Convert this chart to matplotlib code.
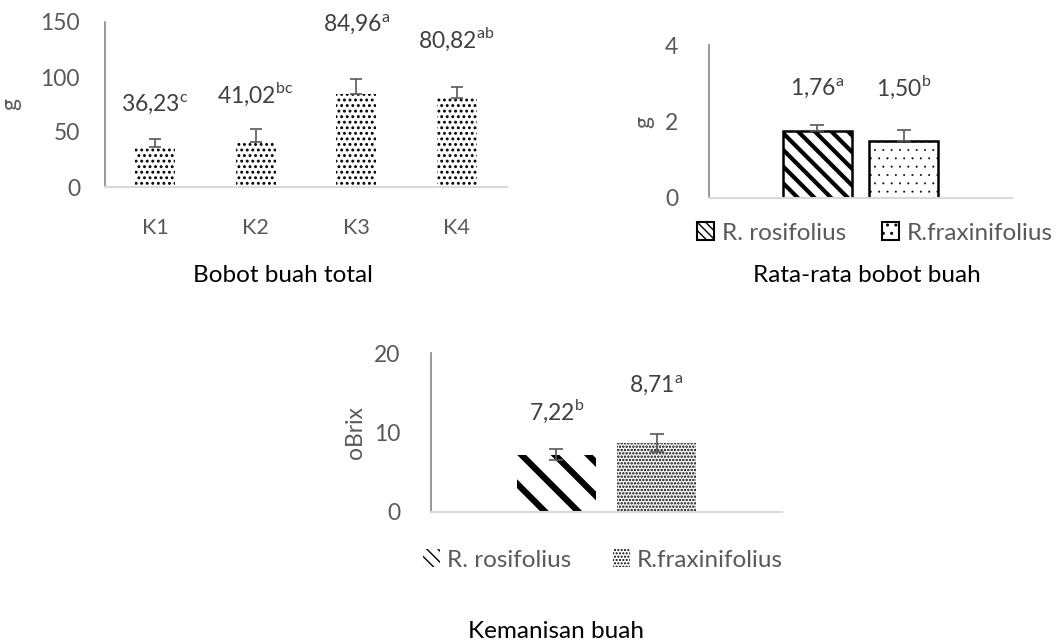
import numpy as np
import matplotlib
matplotlib.use('Agg')
import matplotlib.pyplot as plt
from matplotlib.patches import Patch

plt.rcParams['font.family'] = ['Lato', 'DejaVu Sans']
plt.rcParams['mathtext.fontset'] = 'custom'
plt.rcParams['mathtext.rm'] = 'Lato'
plt.rcParams['hatch.linewidth'] = 1.0

# data
perlakuan = ['K1', 'K2', 'K3', 'K4']
bobot_total = [36.23, 41.02, 84.96, 80.82]
bobot_total_err = [7.4, 11.4, 13.2, 9.8]
notasi_total = ['c', 'bc', 'a', 'ab']

spesies = ['R. rosifolius', 'R.fraxinifolius']
bobot_rata = [1.76, 1.50]
bobot_rata_err = [0.15, 0.28]
notasi_rata = ['a', 'b']

brix = [7.22, 8.71]
brix_err = [0.7, 1.1]
notasi_brix = ['b', 'a']

W, H = 1061, 642
fig = plt.figure(figsize=(W / 100, H / 100), dpi=100)

TICK_C = '#595959'
LAB_C = '#404040'
ERR_C = '#595959'
FS_TICK = 16.5
FS_CAT = 15.5
FS_VAL = 16.5
FS_LEG = 17.5
FS_TTL = 17.5


def px_axes(left, right, base, top):
    return fig.add_axes([left / W, (H - base) / H, (right - left) / W, (base - top) / H])


def style(ax):
    for s in ['top', 'right']:
        ax.spines[s].set_visible(False)
    ax.spines['left'].set_color('#868686')
    ax.spines['left'].set_linewidth(1.2)
    ax.spines['bottom'].set_color('#d9d9d9')
    ax.spines['bottom'].set_linewidth(1.5)
    ax.tick_params(length=0, colors=TICK_C, pad=14)
    ax.tick_params(axis='y', labelsize=FS_TICK)
    ax.tick_params(axis='x', labelsize=FS_CAT)


def hatch_style(p, hatch, lw, color='black'):
    p.set_hatch(hatch)
    try:
        p.set_hatch_linewidth(lw)
    except AttributeError:
        pass
    try:
        p.set_hatchcolor(color)
    except AttributeError:
        pass


def fmt(v, sup):
    return ('%.2f' % v).replace('.', ',') + r'$^{\mathrm{%s}}$' % sup


# ---- Bobot buah total
ax1 = px_axes(105, 507, 187, 22)
x1 = np.arange(len(perlakuan))
b1 = ax1.bar(x1, bobot_total, 0.4, color='white', edgecolor='black', linewidth=0)
for p in b1:
    hatch_style(p, '...', 1.3)
ax1.errorbar(x1, bobot_total, yerr=[np.zeros(4), bobot_total_err], fmt='none',
             ecolor=ERR_C, elinewidth=1.2, capsize=4, capthick=1.2)
label_y1 = [75, 84, 148, 134]
for xi, v, s, ly in zip(x1, bobot_total, notasi_total, label_y1):
    ax1.text(xi, ly, fmt(v, s), ha='center', va='center', fontsize=FS_VAL, color=LAB_C)
ax1.set_xlim(-0.5, 3.5)
ax1.set_ylim(0, 150)
ax1.set_yticks([0, 50, 100, 150])
ax1.set_xticks(x1)
ax1.set_xticklabels(perlakuan)
style(ax1)
ax1.tick_params(axis='y', pad=18)
ax1.tick_params(axis='x', pad=22)
ax1.set_ylabel('g', fontsize=FS_TICK, color=TICK_C, labelpad=14)
fig.text(283 / W, 1 - 275 / H, 'Bobot buah total', ha='center', va='center', fontsize=FS_TTL, color='black')

# ---- Rata-rata bobot buah
ax2 = px_axes(709, 1012, 198, 45)
x2 = np.array([-0.142, 0.143])
b2 = ax2.bar(x2, bobot_rata, 0.228, color='white', edgecolor='black', linewidth=1.8)
hatch_style(b2[0], '\\\\', 3.0, '#404040')
hatch_style(b2[1], '..', 0.2)
ax2.errorbar(x2, bobot_rata, yerr=[np.zeros(2), bobot_rata_err], fmt='none',
             ecolor=ERR_C, elinewidth=1.2, capsize=5, capthick=1.2)
for xi, v, s in zip(x2, bobot_rata, notasi_rata):
    ax2.text(xi, 2.88, fmt(v, s), ha='center', va='center', fontsize=FS_VAL, color=LAB_C)
ax2.set_xlim(-0.5, 0.5)
ax2.set_ylim(0, 4)
ax2.set_yticks([0, 2, 4])
ax2.set_xticks([])
style(ax2)
ax2.tick_params(axis='y', pad=22)
ax2.set_ylabel('g', fontsize=FS_TICK, color=TICK_C, labelpad=8)
h2 = [Patch(facecolor='white', edgecolor='black', linewidth=1.5),
      Patch(facecolor='white', edgecolor='black', linewidth=1.5)]
hatch_style(h2[0], '\\\\\\\\', 3.0, '#404040')
hatch_style(h2[1], '..', 0.2)
fig.legend(h2, spesies, loc='center', bbox_to_anchor=(875 / W, 1 - 233 / H), ncol=2,
           frameon=False, fontsize=FS_LEG, labelcolor=TICK_C, handlelength=0.7, handleheight=0.7,
           handletextpad=0.3, columnspacing=1.5, borderpad=0)
fig.text(867 / W, 1 - 275 / H, 'Rata-rata bobot buah', ha='center', va='center', fontsize=FS_TTL, color='black')

# ---- Kemanisan buah
ax3 = px_axes(431, 782, 512, 353)
x3 = np.array([-0.1425, 0.1425])
b3 = ax3.bar(x3, brix, 0.225, color='white', edgecolor='black', linewidth=0)
hatch_style(b3[0], '\\', 4.5)
hatch_style(b3[1], '.....', 1.2)
ax3.errorbar(x3, brix, yerr=brix_err, fmt='none',
             ecolor=ERR_C, elinewidth=1.2, capsize=5, capthick=1.2)
label_y3 = [12.6, 16.0]
for xi, v, s, ly in zip(x3, brix, notasi_brix, label_y3):
    ax3.text(xi, ly, fmt(v, s), ha='center', va='center', fontsize=FS_VAL, color=LAB_C)
ax3.set_xlim(-0.5, 0.5)
ax3.set_ylim(0, 20)
ax3.set_yticks([0, 10, 20])
ax3.set_xticks([])
style(ax3)
ax3.tick_params(axis='y', pad=22)
ax3.set_ylabel('oBrix', fontsize=FS_TICK, color=TICK_C, labelpad=6)
h3 = [Patch(facecolor='white', edgecolor='black', linewidth=0),
      Patch(facecolor='white', edgecolor='black', linewidth=0)]
hatch_style(h3[0], '\\\\\\', 4.0)
hatch_style(h3[1], '.....', 1.2)
fig.legend(h3, spesies, loc='center', bbox_to_anchor=(603 / W, 1 - 560 / H), ncol=2,
           frameon=False, fontsize=FS_LEG, labelcolor=TICK_C, handlelength=0.7, handleheight=0.7,
           handletextpad=0.3, columnspacing=1.7, borderpad=0)
fig.text(556 / W, 1 - 632 / H, 'Kemanisan buah', ha='center', va='center', fontsize=FS_TTL, color='black')

fig.savefig('out.png', dpi=100)
